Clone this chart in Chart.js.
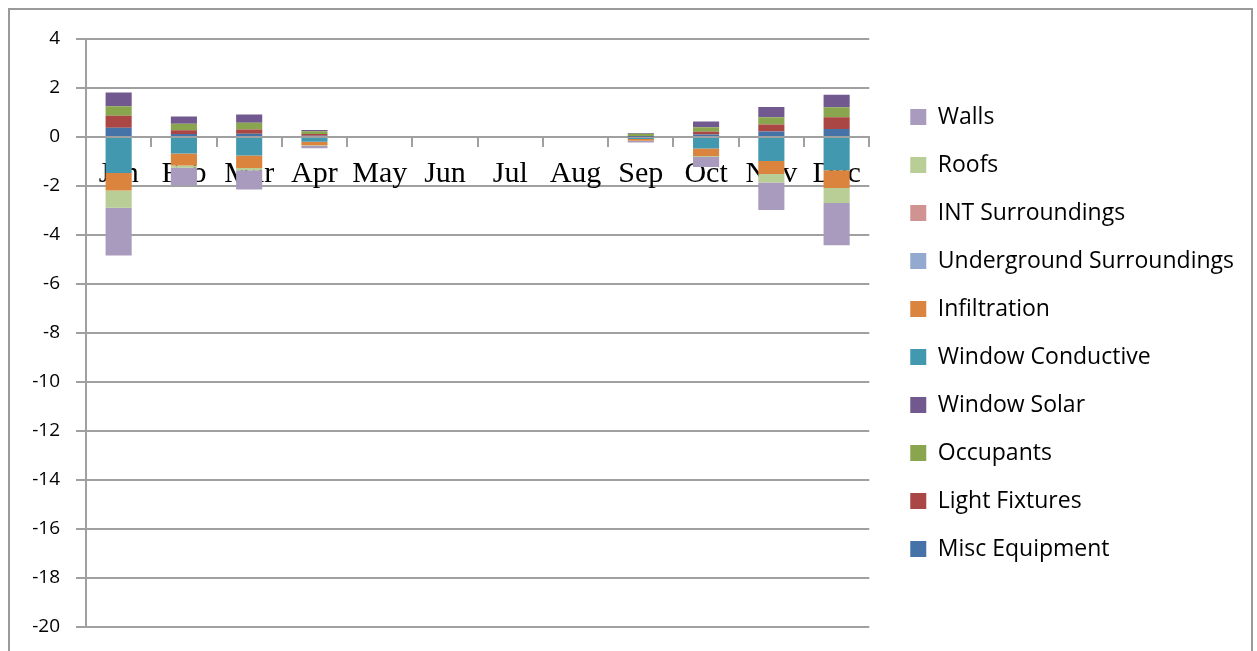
<!DOCTYPE html>
<html>
<head>
<meta charset="utf-8">
<script src="https://cdn.jsdelivr.net/npm/chart.js@4"></script>
<style>
  html, body { margin: 0; padding: 0; background: #ffffff; }
  #wrap { width: 1257px; height: 651px; }
</style>
</head>
<body>
<div id="wrap"><canvas id="chart" width="1257" height="651"></canvas></div>
<script>
const months = ["Jan", "Feb", "Mar", "Apr", "May", "Jun", "Jul", "Aug", "Sep", "Oct", "Nov", "Dec"];
const yTicks = [4, 2, 0, -2, -4, -6, -8, -10, -12, -14, -16, -18, -20];

// series, in stacking order (first one sits next to zero)
const miscEquipment    = [0.38, 0.12, 0.13, 0.05, 0, 0, 0, 0, 0.01, 0.10, 0.22, 0.33];
const lightFixtures    = [0.49, 0.16, 0.18, 0.07, 0, 0, 0, 0, 0.02, 0.11, 0.29, 0.48];
const occupants        = [0.39, 0.26, 0.27, 0.11, 0, 0, 0, 0, 0.10, 0.19, 0.30, 0.40];
const windowSolar      = [0.56, 0.30, 0.34, 0.06, 0, 0, 0, 0, 0.03, 0.23, 0.41, 0.51];
const windowConductive = [-1.47, -0.67, -0.76, -0.19, 0, 0, 0, 0, -0.08, -0.47, -0.98, -1.36];
const infiltration     = [-0.71, -0.49, -0.51, -0.15, 0, 0, 0, 0, -0.07, -0.31, -0.53, -0.72];
const undergroundSurr  = [0, 0, 0, 0, 0, 0, 0, 0, 0, 0, 0, 0];
const intSurroundings  = [0, 0, 0, 0, 0, 0, 0, 0, 0, 0, 0, 0];
const roofs            = [-0.71, -0.10, -0.09, -0.03, 0, 0, 0, 0, -0.01, -0.04, -0.35, -0.61];
const walls            = [-1.95, -0.72, -0.78, -0.09, 0, 0, 0, 0, -0.06, -0.40, -1.12, -1.73];

const seriesNames = ["Misc Equipment", "Light Fixtures", "Occupants", "Window Solar", "Window Conductive",
  "Infiltration", "Underground Surroundings", "INT Surroundings", "Roofs", "Walls"];
const seriesColors = ["#4572A7", "#AA4643", "#89A54E", "#71588F", "#4198AF",
  "#DB843D", "#93A9CF", "#D19392", "#B9CD96", "#A99BBD"];
const seriesData = [miscEquipment, lightFixtures, occupants, windowSolar, windowConductive,
  infiltration, undergroundSurr, intSurroundings, roofs, walls];

const gridColor = "#a0a0a0";

const datasets = seriesNames.map((name, i) => ({
  label: name,
  data: seriesData[i],
  backgroundColor: seriesColors[i],
  borderWidth: 0,
}));

Chart.defaults.font.family = "Open Sans";
Chart.defaults.color = "#000000";

new Chart(document.getElementById("chart"), {
  type: "bar",
  data: { labels: months, datasets },
  options: {
    responsive: false,
    animation: false,
    events: [],
    datasets: { bar: { barPercentage: 0.4, categoryPercentage: 1.0 } },
    layout: { padding: { left: 8, top: 39, bottom: 24, right: 13 } },
    plugins: {
      tooltip: { enabled: false },
      legend: {
        position: "right",
        align: "center",
        reverse: true,
        maxWidth: 420,
        labels: {
          boxWidth: 16,
          boxHeight: 16,
          padding: 25,
          color: "#000000",
          font: { size: 23, family: "Open Sans" },
        },
      },
    },
    scales: {
      x: {
        stacked: true,
        position: { y: 0 },
        afterFit: (scale) => { scale.height = 0; },
        grid: {
          display: true,
          drawOnChartArea: false,
          drawTicks: true,
          tickLength: 9,
          offset: true,
          color: gridColor,
          lineWidth: 2,
        },
        border: { display: true, color: gridColor, width: 2 },
        ticks: {
          padding: 10,
          maxRotation: 0,
          autoSkip: false,
          color: "#000000",
          font: { size: 30, family: "Liberation Serif" },
        },
      },
      y: {
        stacked: true,
        min: -20,
        max: 4,
        afterFit: (scale) => {
          scale.width = 78;
          scale.paddingTop = 0;
          scale.paddingBottom = 0;
        },
        afterBuildTicks: (scale) => { scale.ticks = yTicks.map((v) => ({ value: v })); },
        grid: { color: gridColor, lineWidth: 2, tickLength: 10 },
        border: { display: true, color: gridColor, width: 2 },
        ticks: {
          padding: 16,
          color: "#000000",
          font: { size: 19, family: "Open Sans" },
        },
      },
      gap: {
        position: "right",
        display: true,
        grid: { display: false },
        border: { display: false },
        ticks: { display: false },
        afterFit: (scale) => { scale.width = 16; },
      },
    },
  },
  plugins: [
    {
      id: "frame",
      beforeDraw: (chart) => {
        const ctx = chart.ctx;
        ctx.save();
        ctx.fillStyle = "#ffffff";
        ctx.fillRect(0, 0, chart.width, chart.height);
        ctx.strokeStyle = "#9a9a9a";
        ctx.lineWidth = 2;
        ctx.strokeRect(9, 9, 1243, 660);
        ctx.restore();
      },
    },
  ],
});
</script>
</body>
</html>
